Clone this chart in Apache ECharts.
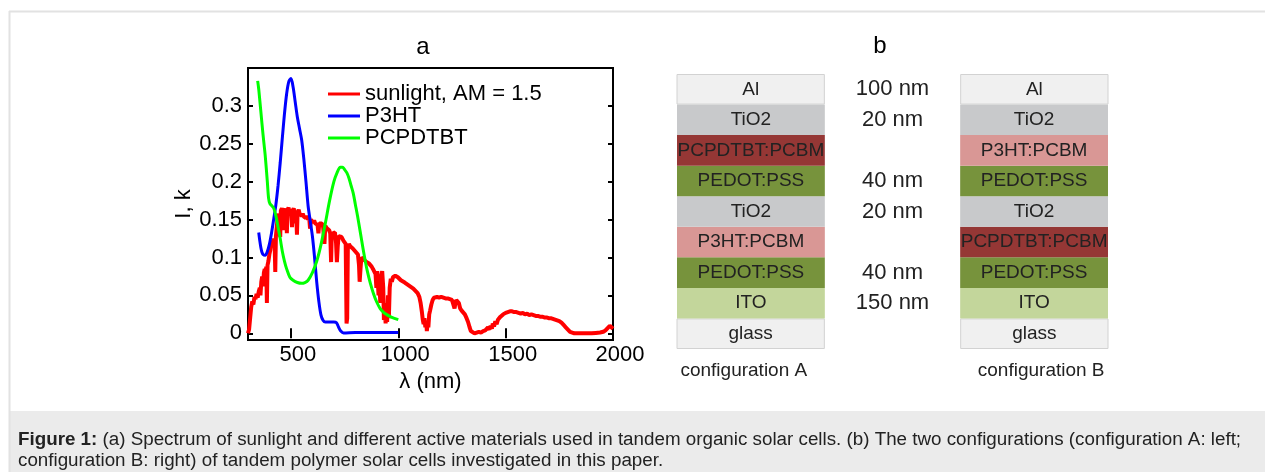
<!DOCTYPE html>
<html>
<head>
<meta charset="utf-8">
<script src="https://cdn.jsdelivr.net/npm/echarts@6/dist/echarts.min.js"></script>
<style>
html,body{margin:0;padding:0;background:#fff;}
#c{width:1265px;height:472px;}
</style>
</head>
<body>
<div id="c"></div>
<script>
// ---------- Panel a data ----------
const sunlight = [
[300,0],[305,0.005],[310,0.02],[315,0.035],[320,0.042],[325,0.038],[330,0.048],[335,0.045],[340,0.052],[345,0.047],
[350,0.055],[355,0.06],[358,0.05],[362,0.068],[366,0.075],[370,0.062],[374,0.08],[378,0.085],[382,0.07],[385,0.088],
[388,0.04],[391,0.09],[395,0.095],[400,0.105],[404,0.11],[408,0.118],[412,0.122],[416,0.115],[420,0.125],[424,0.12],
[427,0.081],[430,0.128],[434,0.14],[438,0.152],[442,0.158],[446,0.16],[450,0.127],[453,0.162],[458,0.165],[462,0.16],
[466,0.136],[469,0.163],[473,0.158],[477,0.165],[481,0.132],[484,0.163],[489,0.166],[493,0.158],[497,0.164],[501,0.16],
[505,0.14],[508,0.162],[513,0.165],[517,0.158],[520,0.145],[524,0.162],[528,0.13],[531,0.16],[536,0.163],[540,0.158],
[545,0.16],[550,0.155],[555,0.158],[560,0.154],[565,0.156],[570,0.152],[575,0.155],[580,0.15],[585,0.153],[589,0.138],
[593,0.15],[598,0.149],[603,0.146],[608,0.149],[613,0.145],[618,0.147],[624,0.143],[628,0.132],[632,0.145],[638,0.143],
[644,0.145],[650,0.14],[656,0.118],[660,0.142],[666,0.139],[672,0.138],[678,0.136],[683,0.132],[687,0.094],[690,0.128],
[695,0.132],[700,0.13],[705,0.133],[710,0.12],[714,0.094],[718,0.115],[722,0.128],[727,0.126],[731,0.13],[736,0.127],
[740,0.125],[745,0.122],[750,0.12],[755,0.118],[759,0.013],[762,0.02],[765,0.112],[770,0.118],[776,0.115],[782,0.113],
[788,0.112],[795,0.11],[800,0.108],[806,0.106],[812,0.104],[817,0.09],[820,0.068],[824,0.085],[828,0.1],[834,0.098],
[840,0.097],[846,0.096],[852,0.094],[858,0.093],[864,0.092],[870,0.09],[876,0.088],[882,0.085],[888,0.087],[894,0.078],
[898,0.06],[902,0.082],[908,0.05],[912,0.07],[916,0.04],[920,0.075],[925,0.082],[930,0.06],[933,0.0175],[937,0.03],
[941,0.013],[945,0.04],[948,0.015],[952,0.05],[956,0.02],[960,0.06],[965,0.072],[970,0.068],[975,0.074],[980,0.075],
[986,0.076],[992,0.075],[998,0.074],[1005,0.072],[1012,0.07],[1020,0.069],[1030,0.067],[1040,0.065],[1050,0.063],[1060,0.061],
[1070,0.059],[1080,0.056],[1090,0.053],[1098,0.048],[1104,0.04],[1110,0.028],[1114,0.018],[1118,0.012],[1122,0.02],[1126,0.008],
[1130,0.015],[1133,0.003],[1137,0.015],[1140,0.008],[1144,0.025],[1148,0.03],[1154,0.038],[1160,0.044],[1166,0.047],[1172,0.046],
[1180,0.048],[1190,0.047],[1200,0.048],[1210,0.047],[1220,0.046],[1230,0.046],[1240,0.045],[1250,0.044],[1258,0.043],[1262,0.033],
[1266,0.04],[1270,0.044],[1276,0.042],[1282,0.04],[1288,0.033],[1295,0.03],[1302,0.028],[1310,0.025],[1318,0.02],[1325,0.015],
[1332,0.008],[1338,0.003],[1345,0.001],[1355,0],[1365,0.001],[1375,0.002],[1385,0.001],[1395,0.003],[1405,0.004],[1412,0.003],
[1418,0.008],[1425,0.005],[1430,0.01],[1436,0.006],[1440,0.013],[1446,0.009],[1452,0.016],[1458,0.012],[1464,0.018],[1470,0.017],
[1476,0.022],[1482,0.02],[1488,0.025],[1494,0.026],[1500,0.027],[1510,0.028],[1520,0.029],[1530,0.029],[1540,0.028],[1550,0.028],
[1560,0.027],[1570,0.026],[1580,0.027],[1590,0.025],[1600,0.026],[1610,0.024],[1620,0.025],[1630,0.024],[1640,0.023],[1650,0.023],
[1660,0.022],[1670,0.022],[1680,0.021],[1690,0.021],[1700,0.02],[1710,0.02],[1720,0.019],[1730,0.018],[1740,0.017],[1750,0.016],
[1760,0.014],[1770,0.011],[1780,0.008],[1790,0.005],[1800,0.002],[1810,0.001],[1820,0],[1840,0],[1860,0],[1880,0],
[1900,0],[1920,0.0005],[1940,0.001],[1955,0.002],[1965,0.004],[1975,0.007],[1985,0.01],[1992,0.009],[2000,0.006]
];
const p3ht = [
[350,0.133],[355,0.122],[360,0.113],[365,0.107],[370,0.104],[380,0.103],[390,0.108],[400,0.118],[410,0.133],[420,0.151],
[430,0.17],[440,0.195],[450,0.225],[460,0.258],[470,0.29],[480,0.316],[490,0.332],[500,0.336],[510,0.325],[520,0.305],
[530,0.285],[540,0.27],[550,0.255],[560,0.23],[570,0.2],[580,0.168],[590,0.148],[600,0.128],[610,0.1],[620,0.068],
[630,0.042],[640,0.024],[650,0.017],[660,0.015],[700,0.015],[712,0.014],[722,0.008],[732,0.003],[745,0.0005],[800,0.001],
[900,0.001],[1000,0.001]
];
const pcpdtbt = [
[345,0.333],[350,0.322],[360,0.292],[370,0.262],[380,0.235],[390,0.2],[396,0.178],[402,0.171],[412,0.168],[420,0.165],
[430,0.155],[440,0.14],[450,0.125],[460,0.108],[470,0.095],[480,0.085],[495,0.074],[510,0.07],[530,0.067],[550,0.066],
[565,0.067],[580,0.07],[600,0.08],[620,0.095],[640,0.117],[660,0.145],[680,0.175],[700,0.2],[715,0.212],[730,0.219],
[740,0.219],[750,0.216],[760,0.212],[770,0.205],[780,0.195],[790,0.185],[800,0.17],[810,0.155],[825,0.13],[840,0.105],
[855,0.083],[870,0.066],[885,0.052],[900,0.041],[915,0.033],[930,0.028],[950,0.024],[970,0.021],[1000,0.018]
];
const seriesNames = ['sunlight, AM = 1.5', 'P3HT', 'PCPDTBT'];
const xTicks = [500, 1000, 1500, 2000];
const yTicks = [0, 0.05, 0.1, 0.15, 0.2, 0.25, 0.3];

// ---------- Panel b data (bottom layer first) ----------
const configs = ['configuration A', '', 'configuration B'];
const layersA = ['glass','ITO','PEDOT:PSS','P3HT:PCBM','TiO2','PEDOT:PSS','PCPDTBT:PCBM','TiO2','Al'];
const layersB = ['glass','ITO','PEDOT:PSS','PCPDTBT:PCBM','TiO2','PEDOT:PSS','P3HT:PCBM','TiO2','Al'];
const thickness = ['','150 nm','40 nm','','20 nm','40 nm','','20 nm','100 nm'];
const layerHeight = [1,1,1,1,1,1,1,1,1];

const layerColor = {
  'Al':'#f0f0f0','glass':'#f0f0f0','TiO2':'#c8c9cb','PCPDTBT:PCBM':'#953735',
  'PEDOT:PSS':'#77933c','P3HT:PCBM':'#d99795','ITO':'#c3d69b'
};

const FONT = 'Liberation Sans, Arial, sans-serif';

function layerItem(name, h){
  const bordered = (name === 'Al' || name === 'glass');
  return {
    value: h,
    itemStyle: {color: layerColor[name], borderColor: bordered ? '#d2d2d2' : layerColor[name], borderWidth: bordered ? 1 : 0},
    label: {formatter: name}
  };
}

const stackSeries = layersA.map((nameA, i) => ({
  type: 'bar', xAxisIndex: 2, yAxisIndex: 2, stack: 'layers', barWidth: 152,
  silent: true,
  label: {show: true, position: 'inside', fontFamily: FONT, fontSize: 19, color: '#222'},
  data: [
    layerItem(nameA, layerHeight[i]),
    {value: layerHeight[i], itemStyle: {color: 'rgba(0,0,0,0)'}, label: {formatter: thickness[i] || ' ', fontSize: 22, color: '#222'}},
    layerItem(layersB[i], layerHeight[i])
  ]
}));

const chart = echarts.init(document.getElementById('c'), null, {renderer: 'canvas'});
const tickStyle = {show: true, inside: true, length: 5, lineStyle: {color: '#000', width: 2}};
chart.setOption({
  animation: false,
  backgroundColor: '#fff',
  textStyle: {fontFamily: FONT},
  graphic: [
    {type: 'rect', shape: {x: 9, y: 411, width: 1260, height: 61}, style: {fill: '#ebebeb'}, z: -10},
    {type: 'line', shape: {x1: 9, y1: 11.5, x2: 1265, y2: 11.5}, style: {stroke: '#e2e2e2', lineWidth: 2}},
    {type: 'line', shape: {x1: 9.5, y1: 11, x2: 9.5, y2: 472}, style: {stroke: '#e2e2e2', lineWidth: 2}},
    {type: 'text', x: 423, y: 47, style: {text: 'a', fontSize: 24, fontFamily: FONT, fill: '#000', align: 'center', verticalAlign: 'middle'}},
    {type: 'text', x: 880, y: 46, style: {text: 'b', fontSize: 24, fontFamily: FONT, fill: '#000', align: 'center', verticalAlign: 'middle'}},
    {type: 'text', x: 18, y: 440, style: {
      text: '{b|Figure 1:} (a) Spectrum of sunlight and different active materials used in tandem organic solar cells. (b) The two configurations (configuration A: left;',
      fontSize: 18.8, fontFamily: FONT, fill: '#222', verticalAlign: 'middle',
      rich: {b: {fontWeight: 'bold', fontSize: 18.8, fontFamily: FONT, fill: '#222'}}
    }},
    {type: 'text', x: 18, y: 461, style: {
      text: 'configuration B: right) of tandem polymer solar cells investigated in this paper.',
      fontSize: 18.8, fontFamily: FONT, fill: '#222', verticalAlign: 'middle'
    }}
  ],
  grid: [
    {left: 248, top: 68, width: 365, height: 272, show: true, borderColor: '#000', borderWidth: 2, backgroundColor: '#fff'},
    {left: 677, top: 74, width: 431, height: 275}
  ],
  legend: {
    data: seriesNames, orient: 'vertical', left: 328, top: 83, padding: 0,
    itemWidth: 32, itemHeight: 3, itemGap: 0, icon: 'rect',
    textStyle: {fontFamily: FONT, fontSize: 22, lineHeight: 22, color: '#000'}
  },
  xAxis: [
    {type: 'value', gridIndex: 0, min: 300, max: 2000, position: 'bottom',
     axisLine: {show: false}, splitLine: {show: false},
     axisTick: Object.assign({customValues: xTicks}, tickStyle),
     axisLabel: {customValues: xTicks, fontSize: 22, color: '#000', margin: 4, padding: [0,0,0,14],
                 formatter: v => String(v)},
     name: 'λ (nm)', nameLocation: 'middle', nameGap: 22, nameTextStyle: {fontSize: 22, color: '#000', fontFamily: FONT}},
    {type: 'value', gridIndex: 0, min: 300, max: 2000, position: 'top',
     axisLine: {show: false}, splitLine: {show: false},
     axisTick: Object.assign({customValues: xTicks}, tickStyle), axisLabel: {show: false}},
    {type: 'category', gridIndex: 1, data: configs,
     axisLine: {show: false}, axisTick: {show: false},
     axisLabel: {fontSize: 19, color: '#222', margin: 12, interval: 0,
                 formatter: (v, i) => i === 0 ? '{l|' + v + '}' : (i === 2 ? '{r|' + v + '}' : v),
                 rich: {l: {fontSize: 19, color: '#222', padding: [0, 10, 0, 0]},
                        r: {fontSize: 19, color: '#222', padding: [0, 0, 0, 10]}}}}
  ],
  yAxis: [
    {type: 'value', gridIndex: 0, min: -0.0088, max: 0.35, position: 'left',
     axisLine: {show: false}, splitLine: {show: false},
     axisTick: Object.assign({customValues: yTicks}, tickStyle),
     axisLabel: {customValues: yTicks, fontSize: 22, color: '#000', margin: 6,
                 formatter: v => String(+(+v).toFixed(2))},
     name: 'I, k', nameLocation: 'middle', nameGap: 48, nameRotate: 90,
     nameTextStyle: {fontSize: 22, color: '#000', fontFamily: FONT}},
    {type: 'value', gridIndex: 0, min: -0.0088, max: 0.35, position: 'right',
     axisLine: {show: false}, splitLine: {show: false},
     axisTick: Object.assign({customValues: yTicks}, tickStyle), axisLabel: {show: false}},
    {type: 'value', gridIndex: 1, min: 0, max: 9, show: false}
  ],
  series: [
    {name: seriesNames[0], type: 'line', xAxisIndex: 0, yAxisIndex: 0, data: sunlight, showSymbol: false, symbol: 'none',
     lineStyle: {color: '#ff0000', width: 4}, itemStyle: {color: '#ff0000'}, z: 2},
    {name: seriesNames[1], type: 'line', xAxisIndex: 0, yAxisIndex: 0, data: p3ht, showSymbol: false, symbol: 'none', smooth: 0.3,
     lineStyle: {color: '#0000ff', width: 3}, itemStyle: {color: '#0000ff'}, z: 3},
    {name: seriesNames[2], type: 'line', xAxisIndex: 0, yAxisIndex: 0, data: pcpdtbt, showSymbol: false, symbol: 'none', smooth: 0.3,
     lineStyle: {color: '#00ff00', width: 3}, itemStyle: {color: '#00ff00'}, z: 4}
  ].concat(stackSeries)
});
</script>
</body>
</html>
